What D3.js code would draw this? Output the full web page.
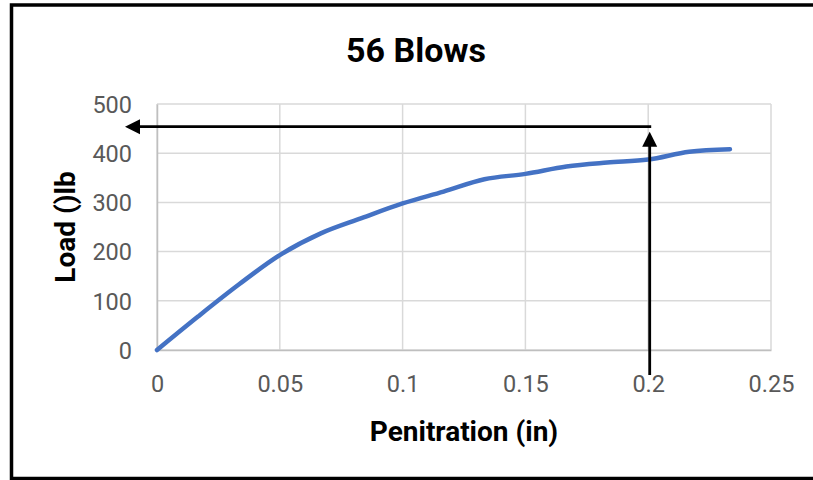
<!DOCTYPE html>
<html>
<head>
<meta charset="utf-8">
<script src="https://cdn.jsdelivr.net/npm/d3@7"></script>
<style>
  html, body { margin: 0; padding: 0; background: #fff; }
  svg { display: block; }
</style>
</head>
<body>
<svg id="chart" width="813" height="480"></svg>
<script>
// Penetration readings (in) and measured load (lb)
const penetration = [0, 0.0167, 0.0333, 0.05, 0.0667, 0.0833, 0.1, 0.1167, 0.1333, 0.15, 0.1667, 0.1833, 0.2, 0.2167, 0.2333];
const load = [0, 68, 133, 193, 237, 268, 298, 322, 347, 358, 373, 381, 387, 403, 408];

const xTicks = [0, 0.05, 0.1, 0.15, 0.2, 0.25];
const yTicks = [0, 100, 200, 300, 400, 500];

// Reading taken off the curve: load at 0.2 in penetration
const readX = 0.2;
const readLoad = 454;

const titleText = "56 Blows";
const xTitle = "Penitration (in)";
const yTitle = "Load ()lb";

const svg = d3.select("#chart");
const W = 813, H = 480;
const plot = { left: 157, right: 771, top: 104, bottom: 350 };

const x = d3.scaleLinear().domain([0, 0.25]).range([plot.left, plot.right]);
const y = d3.scaleLinear().domain([0, 500]).range([plot.bottom, plot.top]);

const tickFont = "Roboto, 'Open Sans', sans-serif";
const tickColor = "#595959";
const gridColor = "#d9d9d9";

// Frame around the chart area
svg.append("path")
  .attr("d", `M${W},5 L11.5,5 L11.5,${H} M11.5,478.5 L${W},478.5`)
  .attr("fill", "none").attr("stroke", "#000").attr("stroke-width", 3.5);

// Gridlines
const grid = svg.append("g");
grid.selectAll("line.h").data(yTicks).join("line")
  .attr("x1", plot.left).attr("x2", plot.right)
  .attr("y1", d => y(d)).attr("y2", d => y(d))
  .attr("stroke", gridColor).attr("stroke-width", 1.5);
grid.selectAll("line.v").data(xTicks).join("line")
  .attr("y1", plot.top).attr("y2", plot.bottom)
  .attr("x1", d => x(d)).attr("x2", d => x(d))
  .attr("stroke", gridColor).attr("stroke-width", 1.5);

// Axes
const xAxis = svg.append("g").attr("transform", `translate(0,${plot.bottom})`)
  .call(d3.axisBottom(x).tickValues(xTicks).tickSize(0).tickPadding(0).tickFormat(d => String(d)));
xAxis.select(".domain").attr("stroke", "#bfbfbf").attr("stroke-width", 1.5);
xAxis.selectAll("text")
  .attr("y", 42).attr("dy", null)
  .attr("font-family", tickFont).attr("font-size", 23.5).attr("fill", tickColor);

const yAxis = svg.append("g").attr("transform", `translate(${plot.left},0)`)
  .call(d3.axisLeft(y).tickValues(yTicks).tickSize(0).tickPadding(0));
yAxis.select(".domain").attr("stroke", "#bfbfbf").attr("stroke-width", 1.5);
yAxis.selectAll("text")
  .attr("x", -25).attr("dy", "0.35em")
  .attr("font-family", tickFont).attr("font-size", 23.5).attr("fill", tickColor);

// Data line
const line = d3.line()
  .x((d, i) => x(penetration[i]))
  .y(d => y(d))
  .curve(d3.curveCatmullRom.alpha(0.5));
svg.append("path")
  .datum(load)
  .attr("d", line)
  .attr("fill", "none")
  .attr("stroke", "#4472C4")
  .attr("stroke-width", 4.5)
  .attr("stroke-linecap", "round")
  .attr("stroke-linejoin", "round");

// Reading arrows: up from the 0.2 in mark, then across to the load axis
const ax = x(readX) + 1.5;
const ay = y(readLoad);
const arrows = svg.append("g").attr("fill", "#000").attr("stroke", "#000");
arrows.append("line")
  .attr("x1", ax).attr("x2", ax)
  .attr("y1", plot.bottom + 25).attr("y2", ay + 18)
  .attr("stroke-width", 2.8);
arrows.append("path")
  .attr("d", `M${ax},${ay + 5} L${ax + 7.5},${ay + 20} L${ax - 7.5},${ay + 20} Z`)
  .attr("stroke", "none");
const leftTip = plot.left - 32;
arrows.append("line")
  .attr("x1", ax + 1.5).attr("x2", leftTip + 14)
  .attr("y1", ay).attr("y2", ay)
  .attr("stroke-width", 2.8);
arrows.append("path")
  .attr("d", `M${leftTip},${ay} L${leftTip + 15},${ay - 7.5} L${leftTip + 15},${ay + 7.5} Z`)
  .attr("stroke", "none");

// Titles
svg.append("text")
  .attr("x", 416).attr("y", 62)
  .attr("text-anchor", "middle")
  .attr("font-family", tickFont).attr("font-weight", "bold")
  .attr("font-size", 34).attr("fill", "#000")
  .text(titleText);

svg.append("text")
  .attr("x", (plot.left + plot.right) / 2).attr("y", 441)
  .attr("text-anchor", "middle")
  .attr("font-family", tickFont).attr("font-weight", "bold")
  .attr("font-size", 28).attr("fill", "#000")
  .text(xTitle);

svg.append("text")
  .attr("transform", `translate(75,${(plot.top + plot.bottom) / 2}) rotate(-90)`)
  .attr("text-anchor", "middle")
  .attr("font-family", tickFont).attr("font-weight", "bold")
  .attr("font-size", 28).attr("fill", "#000")
  .text(yTitle);
</script>
</body>
</html>
